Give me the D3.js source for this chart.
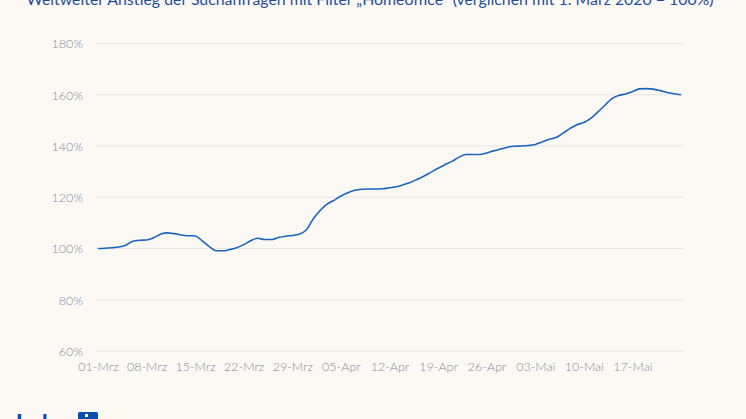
<!DOCTYPE html>
<html><head><meta charset="utf-8">
<script src="https://cdn.jsdelivr.net/npm/d3@7"></script>
<style>html,body{margin:0;padding:0;background:#fcf9f5;}svg{display:block;}</style>
</head><body>
<svg id="c" width="746" height="419"></svg>
<script>
const title = "Weltweiter Anstieg der Suchanfragen mit Filter „Homeoffice“ (verglichen mit 1. März 2020 = 100%)";
const startDate = "2020-03-01";
const values = [100,100.1,100.3,100.6,101.3,102.8,103.2,103.3,104.2,105.6,106.1,105.8,105.3,105,104.9,103,100.8,99.1,99.1,99.6,100.3,101.5,103,104,103.5,103.5,104.3,104.8,105.1,105.6,107.2,111.5,114.8,117.3,118.8,120.5,121.8,122.7,123.1,123.2,123.2,123.3,123.7,124.1,124.9,125.8,127,128.3,129.8,131.3,132.7,134,135.6,136.7,136.7,136.7,137.3,138.1,138.8,139.5,139.9,140,140.2,140.6,141.6,142.6,143.3,145,146.8,148.3,149.2,150.8,153.2,155.8,158.4,159.7,160.3,161.2,162.3,162.4,162.2,161.6,160.9,160.4,160];
const xTickLabels = ["01-Mrz","08-Mrz","15-Mrz","22-Mrz","29-Mrz","05-Apr","12-Apr","19-Apr","26-Apr","03-Mai","10-Mai","17-Mai"];
const yTicks = [60,80,100,120,140,160,180];

const svg = d3.select("#c");
const W = 746, H = 419;
svg.append("rect").attr("width",W).attr("height",H).attr("fill","#fcf9f5");

const x = d3.scaleLinear().domain([0, 84]).range([98, 681]);
const y = d3.scaleLinear().domain([60, 180]).range([351, 43.5]);
const gridX0 = 96, gridX1 = 684;

// grid
const g = svg.append("g");
g.selectAll("line.grid").data(yTicks).join("line")
  .attr("x1", gridX0).attr("x2", gridX1)
  .attr("y1", d => y(d)).attr("y2", d => y(d))
  .attr("stroke", "#e6e4e1").attr("stroke-width", 1);

// y labels
const yAxis = d3.axisLeft(y).tickValues(yTicks).tickSize(0).tickPadding(0).tickFormat(d => d + "%");
const ya = svg.append("g").attr("transform", "translate(83,0)").call(yAxis);
ya.select(".domain").remove();
ya.selectAll("text").attr("font-family","Lato, 'Noto Sans', sans-serif").attr("font-size",12.5)
  .attr("font-weight","300").attr("fill","#858c98").attr("dy","0.35em");

// x labels
const xAxis = d3.axisBottom(x).tickValues(xTickLabels.map((_, i) => i * 7)).tickSize(0).tickPadding(0)
  .tickFormat((d, i) => xTickLabels[i]);
const xa = svg.append("g").attr("transform", "translate(0,362)").call(xAxis);
xa.select(".domain").remove();
xa.selectAll("text").attr("font-family","Lato, 'Noto Sans', sans-serif").attr("font-size",12.5)
  .attr("font-weight","300").attr("fill","#858c98").attr("dy","0.71em");

// line
const line = d3.line().x((d, i) => x(i)).y(d => y(d)).curve(d3.curveMonotoneX);
svg.append("path").datum(values).attr("d", line)
  .attr("fill","none").attr("stroke","#1a64be").attr("stroke-width",1.6);

// title (partially cropped at top, as in the reference)
const t = svg.append("text").attr("x", 370).attr("y", 5).attr("text-anchor","middle")
  .attr("font-family","Lato, 'Noto Sans', sans-serif").attr("font-size",17)
  .attr("fill","#1d4e9e").text(title);
const tl = t.node().getComputedTextLength();
t.attr("font-size", 17 * 688 / tl);

// logo (cropped at bottom, as in the reference)
svg.append("text").attr("x", 16).attr("y", 431)
  .attr("font-family","Lato, 'Noto Sans', sans-serif").attr("font-weight","900").attr("font-size",22)
  .attr("fill","#0a4fb0").text("Indeed");
svg.append("rect").attr("x",78).attr("y",412).attr("width",20).attr("height",12).attr("rx",1.5).attr("fill","#0a4fb0");
svg.append("rect").attr("x",85).attr("y",414).attr("width",3).attr("height",3).attr("fill","#ffffff");
</script>
</body></html>
